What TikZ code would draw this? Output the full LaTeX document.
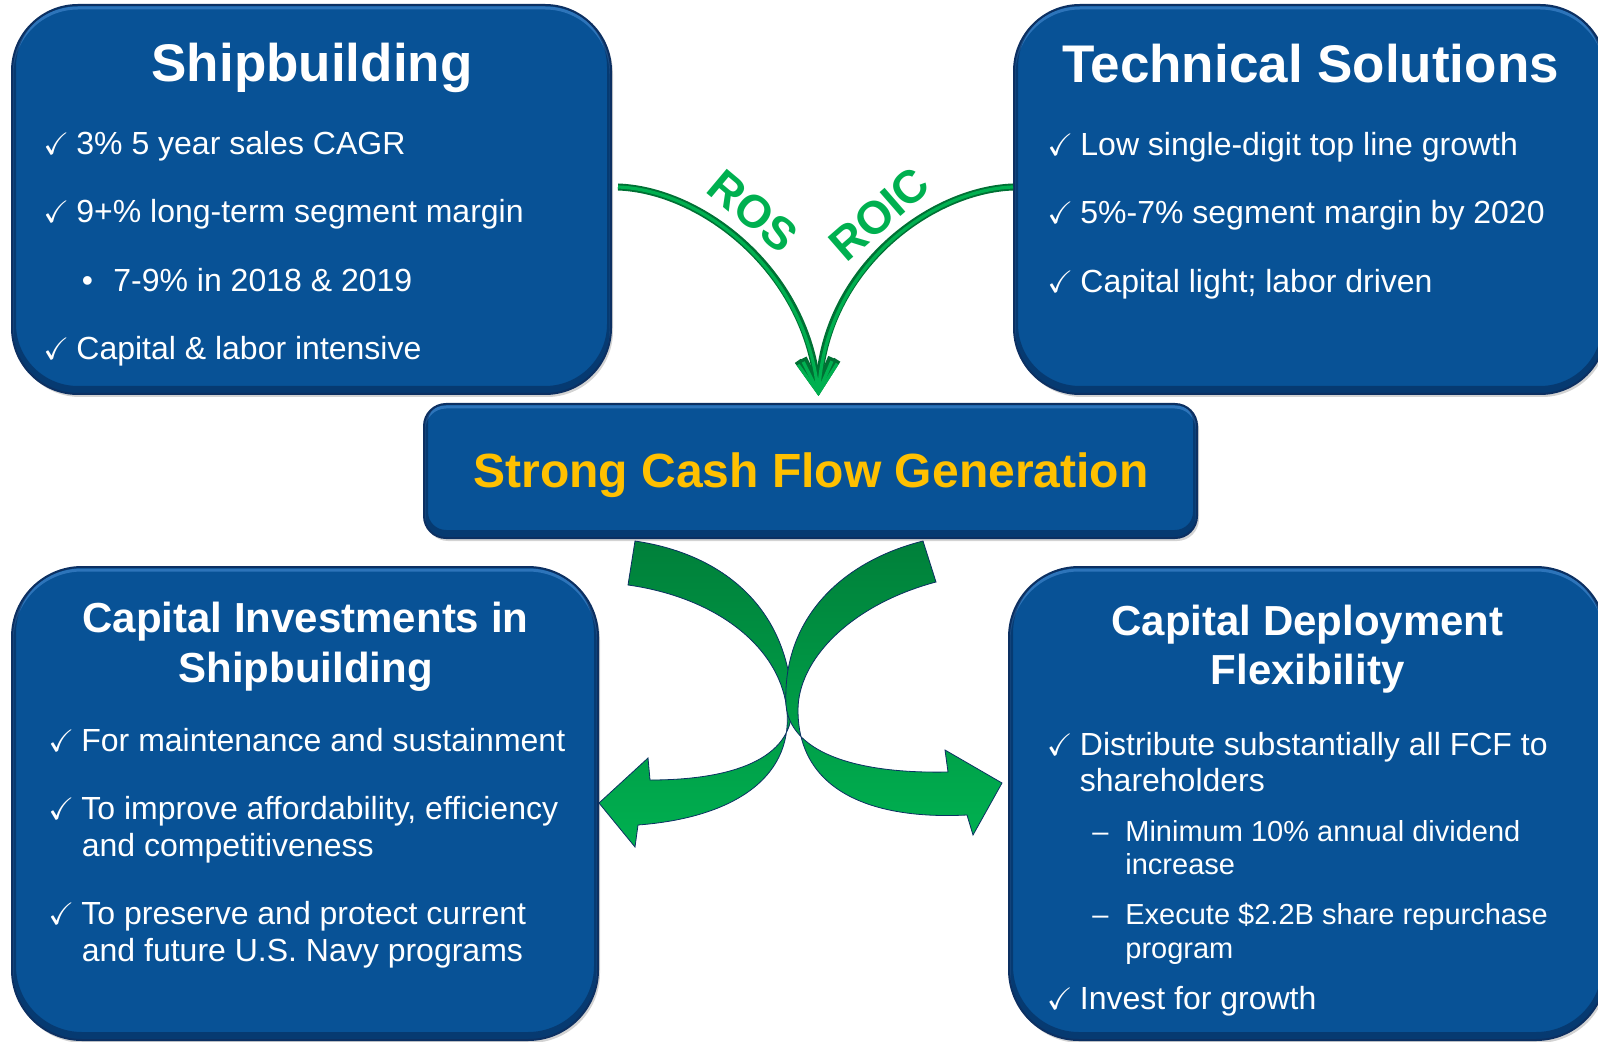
\documentclass[tikz,border=0pt]{standalone}
\usepackage{amssymb}
\usepackage{fontspec}
\setmainfont{Liberation Sans}
\usetikzlibrary{positioning,shadows,arrows.meta}

\definecolor{panelblue}{RGB}{8,82,150}
\definecolor{paneledge}{RGB}{12,48,98}
\definecolor{panelshade}{RGB}{4,30,70}
\definecolor{panellight}{RGB}{70,140,210}
\definecolor{cashgold}{RGB}{255,192,0}
\definecolor{arcgreen}{RGB}{0,176,80}
\definecolor{arcdark}{RGB}{0,112,52}
\definecolor{ribbondark}{RGB}{0,128,58}
\definecolor{ribbonlight}{RGB}{0,176,80}

% check mark, bullet and dash with fixed hanging width
\newcommand\tick{\makebox[16.5pt][l]{\fontsize{15.5}{15.5}\selectfont$\checkmark$}}
\newcommand\subbul{\makebox[15.75pt][l]{•}}
\newcommand\subdash{\makebox[16.5pt][l]{–}}

\begin{document}
\begin{tikzpicture}[x=0.5pt,y=-0.5pt,
    panel/.style={draw=paneledge,line width=1pt,fill=panelblue,inner sep=0pt,rounded corners=#1,
                  drop shadow={shadow xshift=1pt,shadow yshift=-1.5pt,opacity=.35},
                  path picture={
                    \draw[panellight,line width=1.5pt,opacity=.6,rounded corners=#1]
                      ([yshift=-1.5pt]path picture bounding box.south west) rectangle ([yshift=-1.5pt]path picture bounding box.north east);
                    \draw[panelshade,line width=4pt,opacity=.45,rounded corners=#1]
                      ([yshift=2pt]path picture bounding box.south west) rectangle ([yshift=2pt]path picture bounding box.north east);}},
    panel/.default=33pt,
    heading/.style={text=white,font=\fontsize{26.5}{30}\selectfont\bfseries,anchor=base,inner sep=0pt},
    subheading/.style={heading,font=\fontsize{21}{24}\selectfont\bfseries},
    bodyline/.style={text=white,font=\fontsize{16}{19}\selectfont,anchor=base west,inner sep=0pt},
    subline/.style={bodyline,font=\fontsize{14.5}{17}\selectfont},
    metric/.style={text=arcgreen,font=\fontsize{23}{23}\selectfont\bfseries,inner sep=0pt},
    flowarc/.style={line width=3.5pt,draw=arcdark,-{Straight Barb[length=15pt,width=17pt]}},
    flowglow/.style={line width=1.6pt,draw=arcgreen,-{Straight Barb[length=15pt,width=17pt]}},
    ribbon/.style={top color=ribbondark,bottom color=ribbonlight,draw=paneledge,line width=.4pt}]

    \useasboundingbox (0,0) rectangle (1598,1042);

    % the five panels
    \node[panel,minimum width=299.5pt,minimum height=194.5pt] (ship) at (311.5,199.5) {};
    \node[panel,minimum width=296pt,minimum height=194.5pt] (tech) at (1310,199.5) {};
    \node[panel=11pt,minimum width=386.5pt,minimum height=67pt] (cash) at (810.5,471) {};
    \node[panel=35pt,minimum width=293pt,minimum height=236.5pt] (invest) at (305,803.5) {};
    \node[panel=35pt,minimum width=298.5pt,minimum height=236.5pt] (deploy) at (1307.5,803.5) {};

    % headings
    \node[heading] (shiptitle) at (312,82) {Shipbuilding};
    \node[heading] (techtitle) at (1310.5,83) {Technical Solutions};
    \node[heading,text=cashgold,font=\fontsize{24}{28}\selectfont\bfseries] (cashtitle) at (811,487) {Strong Cash Flow Generation};
    \node[subheading] (investtitle) at (305.5,632) {Capital Investments in};
    \node[subheading] (investtitle2) at (305.5,682) {Shipbuilding};
    \node[subheading] (deploytitle) at (1307.5,635) {Capital Deployment};
    \node[subheading] (deploytitle2) at (1307.5,684) {Flexibility};

    % Shipbuilding
    \node[bodyline] (sb1) at (43,155) {\tick 3\% 5 year sales CAGR};
    \node[bodyline] (sb2) at (43,223) {\tick 9+\% long-term segment margin};
    \node[bodyline] (sb3) at (81.5,291.5) {\subbul 7-9\% in 2018 \& 2019};
    \node[bodyline] (sb4) at (43,360) {\tick Capital \& labor intensive};

    % Technical Solutions
    \node[bodyline] (ts1) at (1047,156) {\tick Low single-digit top line growth};
    \node[bodyline] (ts2) at (1047,224) {\tick 5\%-7\% segment margin by 2020};
    \node[bodyline] (ts3) at (1047,292.5) {\tick Capital light; labor driven};

    % Capital Investments
    \node[bodyline] (ci1) at (48,751) {\tick For maintenance and sustainment};
    \node[bodyline] (ci2) at (48,819) {\tick To improve affordability, efficiency};
    \node[bodyline] (ci3) at (81.5,856) {and competitiveness};
    \node[bodyline] (ci4) at (48,924) {\tick To preserve and protect current};
    \node[bodyline] (ci5) at (81.5,961) {and future U.S. Navy programs};

    % Capital Deployment
    \node[bodyline] (cd1) at (1046.5,755) {\tick Distribute substantially all FCF to};
    \node[bodyline] (cd2) at (1079.5,791) {shareholders};
    \node[subline] (cd3) at (1092,841) {\subdash Minimum 10\% annual dividend};
    \node[subline] (cd4) at (1125,874) {increase};
    \node[subline] (cd5) at (1092,924) {\subdash Execute \$2.2B share repurchase};
    \node[subline] (cd6) at (1125,958) {program};
    \node[bodyline] (cd7) at (1046.5,1009) {\tick Invest for growth};

    % ROS / ROIC arcs into the cash box
    \coordinate (rosfrom) at ([xshift=3pt,yshift=6.25pt]ship.east);
    \coordinate (roicfrom) at ([yshift=6.25pt]tech.west);
    \coordinate (tip) at ([xshift=4pt,yshift=3.5pt]cash.north);
    \draw[flowarc] (rosfrom) .. controls +(83,3) and +(-13.5,-127) .. (tip);
    \draw[flowarc] (roicfrom) .. controls +(-83,3) and +(6.5,-127) .. (tip);
    \draw[flowglow] (rosfrom) .. controls +(83,3) and +(-13.5,-127) .. (tip);
    \draw[flowglow] (roicfrom) .. controls +(-83,3) and +(6.5,-127) .. (tip);
    \node[metric,rotate=-40] (ros) at (753,211) {ROS};
    \node[metric,rotate=41] (roic) at (879,214) {ROIC};

    % crossing ribbons out of the cash box
    \path[ribbon] (635,541) .. controls (730,555) and (790,615) .. (792,705)
        .. controls (794,760) and (730,780) .. (650,780)
        -- (648,758) -- (599,803) -- (635,847) -- (638,825)
        .. controls (730,818) and (792,780) .. (787,712)
        .. controls (782,650) and (720,598) .. (628,585) -- cycle;
    \path[ribbon] (923,541) .. controls (840,562) and (782,620) .. (786,705)
        .. controls (790,750) and (850,774) .. (948,772)
        -- (945,750) -- (1002,783) -- (973,835) -- (967,815)
        .. controls (870,820) and (798,790) .. (798,710)
        .. controls (798,660) and (850,605) .. (936,582) -- cycle;

\end{tikzpicture}
\end{document}
